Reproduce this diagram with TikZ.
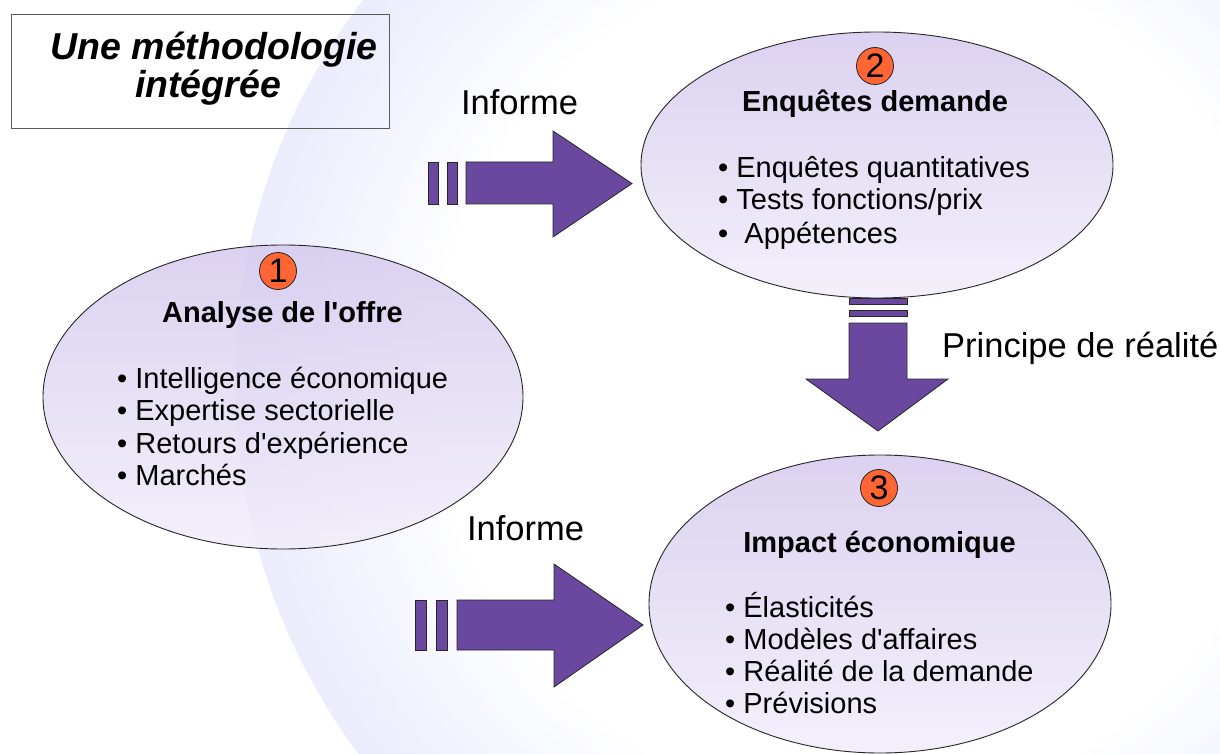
\documentclass[tikz,border=0pt]{standalone}
\usepackage{fontspec}
\setmainfont{Liberation Sans}
\usetikzlibrary{shapes.geometric}
\definecolor{arrowfill}{RGB}{106,72,160}
\definecolor{ellTop}{RGB}{204,189,234}
\definecolor{ellMid}{RGB}{224,215,243}
\definecolor{ellBot}{RGB}{250,248,253}
\definecolor{numfill}{RGB}{255,102,51}
\definecolor{bgA}{RGB}{235,237,252}
\pgfdeclareverticalshading{ellshade}{100bp}{color(0bp)=(ellBot); color(10bp)=(ellBot); color(55bp)=(ellMid); color(90bp)=(ellTop); color(100bp)=(ellTop)}
\tikzset{
  ell/.style={ellipse, draw=black!85, line width=0.9pt, shading=ellshade, fill opacity=0.82, draw opacity=1, inner sep=0pt},
  numc/.style={circle, draw=black!85, line width=0.8pt, fill=numfill, minimum size=37pt, inner sep=0pt, font=\fontsize{34}{34}\selectfont},
  ttl/.style={anchor=base, inner sep=0pt, font=\fontsize{29}{33}\selectfont\bfseries},
  bul/.style={anchor=base west, inner sep=0pt, font=\fontsize{29}{33}\selectfont},
  lbl/.style={anchor=base, inner sep=0pt, font=\fontsize{34.5}{38}\selectfont},
  blk/.style={fill=arrowfill, draw=black!85, line width=0.8pt, line join=miter},
  hd/.style={anchor=base, inner sep=0pt, font=\fontsize{37.5}{37}\selectfont\bfseries\itshape}
}
\begin{document}
\begin{tikzpicture}[x=1pt,y=-1pt]
\useasboundingbox (0,0) rectangle (1220,754);
\clip (0,0) rectangle (1220,754);
\fill[white] (0,0) rectangle (1220,754);
% background disc, drawn as concentric rings
\coordinate (bgc) at (863,380);
\foreach \k in {0,...,32}{
  \pgfmathsetmacro{\p}{max(0,min(100,100-(\k-2)*3.8))}
  \pgfmathsetmacro{\r}{628-\k*7}
  \fill[bgA!\p!white] (bgc) circle (\r);
}
% title box
\node[draw=black!65, line width=0.8pt, minimum width=378pt, minimum height=114pt, inner sep=0pt] (tbox) at (200,71) {};
\node[hd] (t1) at (214,60) {Une méthodologie};
\node[hd] (t2) at (208,98) {intégrée};
% arrows
\path[blk] (428,162) rectangle (438,204);
\path[blk] (447,162) rectangle (457,204);
\path[blk] (466,162) -- (553,162) -- (553,131) -- (632,183.5) -- (553,237) -- (553,204) -- (466,204) -- cycle;
\path[blk] (415,600) rectangle (426,650);
\path[blk] (436,600) rectangle (447,650);
\path[blk] (457,600) -- (554,600) -- (554,564) -- (643,625) -- (554,687) -- (554,650) -- (457,650) -- cycle;
% ellipses
\node[ell, minimum width=480pt, minimum height=304pt] (e1) at (283,397) {};
\node[ell, minimum width=472pt, minimum height=266pt] (e2) at (877,165) {};
\node[ell, minimum width=462pt, minimum height=298pt] (e3) at (880,604) {};
% down arrow
\path[blk] (849,298) rectangle (907,304);
\path[blk] (849,310) rectangle (907,316);
\path[blk] (849,323) -- (907,323) -- (907,379) -- (948,379) -- (878,431) -- (806,379) -- (849,379) -- cycle;
% numbers
\node[numc] (n1) at (278,271) {1};
\node[numc] (n2) at (875,66) {2};
\node[numc] (n3) at (879,488) {3};
% titles
\node[ttl] (h1) at (282.5,322) {Analyse de l\textquotesingle offre};
\node[ttl] (h2) at (875,112) {Enquêtes demande};
\node[ttl] (h3) at (879.5,552) {Impact économique};
% bullets 1
\node[bul] (a1) at (117,388) {• Intelligence économique};
\node[bul] (a2) at (117,420) {• Expertise sectorielle};
\node[bul] (a3) at (117,453) {• Retours d\textquotesingle expérience};
\node[bul] (a4) at (117,485) {• Marchés};
% bullets 2
\node[bul] (b1) at (718,178) {• Enquêtes quantitatives};
\node[bul] (b2) at (718,210) {• Tests fonctions/prix};
\node[bul] (b3) at (718,243) {•\ \ Appétences};
% bullets 3
\node[bul] (c1) at (725,617) {• Élasticités};
\node[bul] (c2) at (725,649) {• Modèles d\textquotesingle affaires};
\node[bul] (c3) at (725,681) {• Réalité de la demande};
\node[bul] (c4) at (725,713) {• Prévisions};
% labels
\node[lbl] (l1) at (519.5,115) {Informe};
\node[lbl] (l2) at (525.5,540) {Informe};
\node[lbl, anchor=base west] (l3) at (942,357) {Principe de réalité};
\end{tikzpicture}
\end{document}
